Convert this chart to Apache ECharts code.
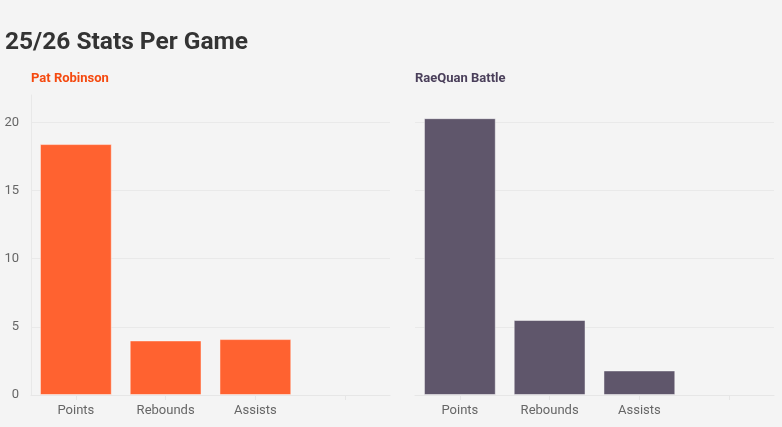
<!DOCTYPE html>
<html>
<head>
<meta charset="utf-8">
<script src="https://cdn.jsdelivr.net/npm/echarts@6/dist/echarts.min.js"></script>
<style>
html,body{margin:0;padding:0;background:#f4f4f4;}
#main{width:782px;height:427px;}
</style>
</head>
<body>
<div id="main"></div>
<script>
const titleText = '25/26 Stats Per Game';
const players = ['Pat Robinson', 'RaeQuan Battle'];
const categories = ['Points', 'Rebounds', 'Assists', ''];
const patValues = [18.4, 4.0, 4.1, null];
const raeValues = [20.3, 5.5, 1.8, null];
const yTicks = [0, 5, 10, 15, 20];

const chart = echarts.init(document.getElementById('main'));
const font = 'Roboto, sans-serif';
function xAxis(idx){
  return {
    type:'category', gridIndex:idx, data:categories,
    axisLine:{show:true, lineStyle:{color:'#e6e6e6'}},
    axisTick:{show:true, alignWithLabel:true, length:5, lineStyle:{color:'#e6e6e6'}},
    axisLabel:{color:'#666', fontSize:13, fontFamily:font, margin:9}
  };
}
function yAxis(idx, showLabels){
  return {
    type:'value', gridIndex:idx, min:0, max:22, interval:5,
    axisLine:{show:showLabels, lineStyle:{color:'#e8e8e8'}},
    axisTick:{show:false},
    axisLabel:{show:showLabels, color:'#666', fontSize:13, fontFamily:font, margin:12,
      showMaxLabel:false,
      formatter:v => yTicks.includes(v) ? String(v) : ''},
    splitLine:{show:true, showMaxLine:false, lineStyle:{color:'#e9e9e9'}}
  };
}
chart.setOption({
  backgroundColor:'#f4f4f4',
  animation:false,
  title:[
    {text:titleText, left:0, top:25, textStyle:{fontFamily:font, fontSize:24.5, fontWeight:'bold', color:'#333'}},
    {text:players[0], left:26, top:67, textStyle:{fontFamily:font, fontSize:13, fontWeight:'bold', color:'#f5490f'}},
    {text:players[1], left:410, top:67, textStyle:{fontFamily:font, fontSize:13, fontWeight:'bold', color:'#4a3f5a'}}
  ],
  grid:[
    {left:31, right:392, top:95, bottom:32},
    {left:415, right:8, top:95, bottom:32}
  ],
  xAxis:[xAxis(0), xAxis(1)],
  yAxis:[yAxis(0,true), yAxis(1,false)],
  series:[
    {type:'bar', xAxisIndex:0, yAxisIndex:0, data:patValues, barCategoryGap:'20%',
      itemStyle:{color:'#ff6230', borderColor:'rgba(255,255,255,0.45)', borderWidth:1}},
    {type:'bar', xAxisIndex:1, yAxisIndex:1, data:raeValues, barCategoryGap:'20%',
      itemStyle:{color:'#5f566b', borderColor:'rgba(255,255,255,0.45)', borderWidth:1}}
  ]
});
</script>
</body>
</html>
